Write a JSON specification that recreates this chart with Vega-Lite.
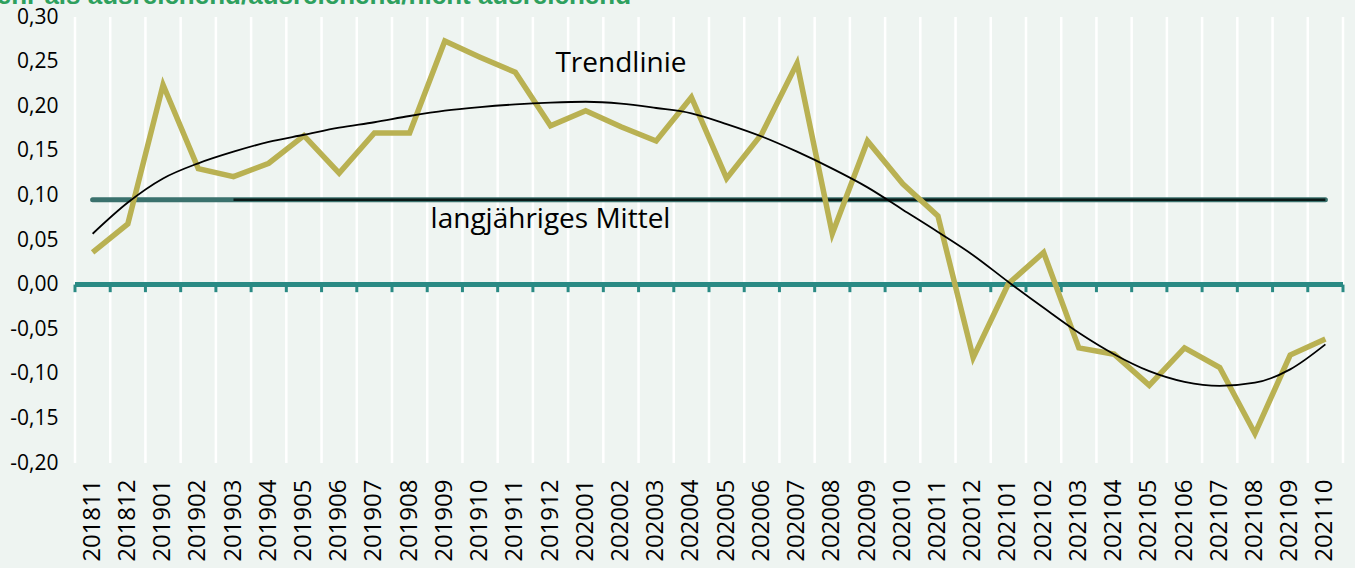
{
  "$schema": "https://vega.github.io/schema/vega-lite/v6.json",
  "autosize": {"type": "none"},
  "width": 1268,
  "height": 446,
  "padding": {"left": 75, "top": 17, "right": 12, "bottom": 105},
  "background": "#EEF4F1",
  "config": {
    "font": "Open Sans",
    "view": {"stroke": null, "fill": "#EEF4F1"}
  },
  "datasets": {
    "series": [
      {"m": "201811", "v": 0.036, "t": 0.057},
      {"m": "201812", "v": 0.068, "t": 0.092},
      {"m": "201901", "v": 0.224, "t": 0.119},
      {"m": "201902", "v": 0.130, "t": 0.136},
      {"m": "201903", "v": 0.121, "t": 0.149},
      {"m": "201904", "v": 0.136, "t": 0.160},
      {"m": "201905", "v": 0.167, "t": 0.168},
      {"m": "201906", "v": 0.125, "t": 0.176},
      {"m": "201907", "v": 0.170, "t": 0.182},
      {"m": "201908", "v": 0.170, "t": 0.189},
      {"m": "201909", "v": 0.273, "t": 0.195},
      {"m": "201910", "v": 0.255, "t": 0.199},
      {"m": "201911", "v": 0.238, "t": 0.202},
      {"m": "201912", "v": 0.178, "t": 0.204},
      {"m": "202001", "v": 0.195, "t": 0.205},
      {"m": "202002", "v": 0.177, "t": 0.203},
      {"m": "202003", "v": 0.161, "t": 0.198},
      {"m": "202004", "v": 0.210, "t": 0.192},
      {"m": "202005", "v": 0.119, "t": 0.180},
      {"m": "202006", "v": 0.169, "t": 0.166},
      {"m": "202007", "v": 0.248, "t": 0.149},
      {"m": "202008", "v": 0.057, "t": 0.130},
      {"m": "202009", "v": 0.161, "t": 0.109},
      {"m": "202010", "v": 0.113, "t": 0.084},
      {"m": "202011", "v": 0.077, "t": 0.059},
      {"m": "202012", "v": -0.082, "t": 0.033},
      {"m": "202101", "v": 0.001, "t": 0.003},
      {"m": "202102", "v": 0.036, "t": -0.026},
      {"m": "202103", "v": -0.071, "t": -0.054},
      {"m": "202104", "v": -0.078, "t": -0.078},
      {"m": "202105", "v": -0.113, "t": -0.097},
      {"m": "202106", "v": -0.071, "t": -0.109},
      {"m": "202107", "v": -0.093, "t": -0.1135},
      {"m": "202108", "v": -0.167, "t": -0.110},
      {"m": "202109", "v": -0.079, "t": -0.095},
      {"m": "202110", "v": -0.061, "t": -0.067}
    ],
    "labels": [
      {"m": "202002", "y": 0.238, "label": "Trendlinie", "dx": -4},
      {"m": "201912", "y": 0.063, "label": "langjähriges Mittel", "dx": -15}
    ],
    "heading": [
      {"m": "201811", "y": 0.315, "label": "mehr als ausreichend/ausreichend/nicht ausreichend"}
    ],
    "mean": [
      {"from": "201811", "from2": "201903", "to": "202110", "mittel": 0.095}
    ]
  },
  "data": {"name": "series"},
  "encoding": {
    "x": {
      "field": "m",
      "type": "ordinal",
      "sort": null,
      "scale": {"paddingInner": 0, "paddingOuter": 0},
      "axis": {
        "title": null,
        "labelAngle": -90,
        "labelFontSize": 24,
        "labelColor": "#000000",
        "labelPadding": 16,
        "domain": false,
        "ticks": false,
        "grid": false
      }
    }
  },
  "layer": [
    {
      "mark": {"type": "rule", "color": "#FFFFFF", "strokeWidth": 2.5},
      "encoding": {
        "x": {"field": "m", "type": "ordinal", "sort": null, "bandPosition": 0},
        "y": {"datum": -0.2, "type": "quantitative"},
        "y2": {"datum": 0.3}
      }
    },
    {
      "transform": [{"filter": "datum.m == '202110'"}],
      "mark": {"type": "rule", "color": "#FFFFFF", "strokeWidth": 2.5},
      "encoding": {
        "x": {"field": "m", "type": "ordinal", "sort": null, "bandPosition": 1},
        "y": {"datum": -0.2, "type": "quantitative"},
        "y2": {"datum": 0.3}
      }
    },
    {
      "mark": {"type": "rule", "color": "#2A8A84", "strokeWidth": 3},
      "encoding": {
        "x": {"field": "m", "type": "ordinal", "sort": null, "bandPosition": 0},
        "y": {"datum": 0, "type": "quantitative"},
        "y2": {"datum": -0.0085}
      }
    },
    {
      "transform": [{"filter": "datum.m == '202110'"}],
      "mark": {"type": "rule", "color": "#2A8A84", "strokeWidth": 3},
      "encoding": {
        "x": {"field": "m", "type": "ordinal", "sort": null, "bandPosition": 1},
        "y": {"datum": 0, "type": "quantitative"},
        "y2": {"datum": -0.0085}
      }
    },
    {
      "mark": {"type": "rule", "color": "#2A8A84", "strokeWidth": 4.5},
      "encoding": {
        "x": {"value": 0},
        "x2": {"value": 1268},
        "y": {"datum": 0, "type": "quantitative"}
      }
    },
    {
      "data": {"name": "mean"},
      "mark": {"type": "rule", "color": "#3A716D", "strokeWidth": 5, "strokeCap": "round"},
      "encoding": {
        "x": {"field": "from", "type": "ordinal"},
        "x2": {"field": "to"},
        "y": {"field": "mittel", "type": "quantitative"}
      }
    },
    {
      "data": {"name": "mean"},
      "mark": {"type": "rule", "color": "#0A1A18", "strokeWidth": 2.5},
      "encoding": {
        "x": {"field": "from2", "type": "ordinal"},
        "x2": {"field": "to"},
        "y": {"field": "mittel", "type": "quantitative"}
      }
    },
    {
      "mark": {"type": "line", "color": "#B9B152", "strokeWidth": 5.5},
      "encoding": {
        "y": {
          "field": "v",
          "type": "quantitative",
          "scale": {"domain": [-0.2, 0.3], "nice": false, "zero": false},
          "axis": {
            "title": null,
            "values": [-0.2, -0.15, -0.1, -0.05, 0, 0.05, 0.1, 0.15, 0.2, 0.25, 0.3],
            "labelExpr": "replace(replace(format(datum.value, '.2f'), '.', ','), '\u2212', '-')",
            "labelFontSize": 21,
            "labelColor": "#000000",
            "labelPadding": 17,
            "domain": false,
            "ticks": false,
            "grid": false
          }
        }
      }
    },
    {
      "mark": {"type": "line", "color": "#000000", "strokeWidth": 1.8, "interpolate": "monotone"},
      "encoding": {
        "y": {"field": "t", "type": "quantitative"}
      }
    },
    {
      "data": {"name": "labels"},
      "mark": {"type": "text", "fontSize": 28, "color": "#000000", "baseline": "alphabetic", "align": "center"},
      "encoding": {
        "x": {"field": "m", "type": "ordinal"},
        "y": {"field": "y", "type": "quantitative"},
        "dx": {"field": "dx", "type": "quantitative", "scale": null},
        "text": {"field": "label"}
      }
    },
    {
      "data": {"name": "heading"},
      "mark": {"type": "text", "font": "Liberation Sans", "fontSize": 26, "fontWeight": "bold", "color": "#2EA05E", "baseline": "alphabetic", "align": "left", "dx": -119},
      "encoding": {
        "x": {"field": "m", "type": "ordinal"},
        "y": {"field": "y", "type": "quantitative"},
        "text": {"field": "label"}
      }
    }
  ]
}
